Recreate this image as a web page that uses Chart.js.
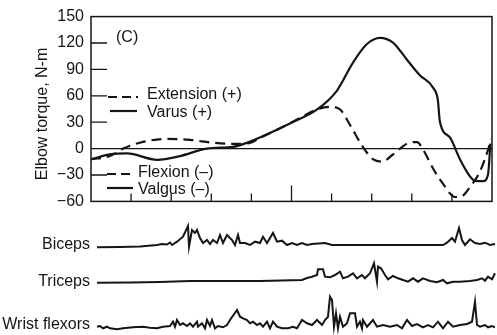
<!DOCTYPE html>
<html>
<head>
<meta charset="utf-8">
<script src="https://cdn.jsdelivr.net/npm/chart.js@4/dist/chart.umd.min.js"></script>
<style>
  html, body { margin: 0; padding: 0; background: #fff; }
  #wrap { position: relative; width: 497px; height: 335px; overflow: hidden; }
  #torque { position: absolute; left: 0; top: 0; }
  #emg { position: absolute; left: 0; top: 215px; }
</style>
</head>
<body>
<div id="wrap">
  <canvas id="torque" width="497" height="218"></canvas>
  <canvas id="emg" width="497" height="120"></canvas>
</div>
<script>
// Elbow torque (N-m) against % of the pitch cycle
const extensionX = [0, 4.7, 8, 12.2, 18.9, 24.7, 30.4, 35.4, 39.2, 42.1, 49.6, 56.4, 59.6, 62.1, 64.6, 67.8, 70.3, 72.6, 75.3, 78.8, 81.3, 82.8, 85.3, 87.8, 90.8, 92.5, 94.5, 97, 99, 99.8];
const extensionY = [-12, -8.5, 0, 6.7, 11, 9.9, 6.7, 5.3, 6, 12, 28.6, 44.5, 47.5, 44.5, 26.8, 2, -12, -14.8, -6.7, 5.7, 7.4, -1, -22.6, -40, -55, -54, -43.7, -26, -1.6, 11];
const varusX = [0, 4.7, 9, 16.5, 22.2, 28.9, 35.4, 37.2, 42.1, 49.6, 56.4, 61.3, 65.3, 68.8, 72.1, 75.3, 78.8, 82, 85.3, 86.5, 87, 89.5, 92, 94.5, 95.8, 97.8, 99, 99.6];
const varusY = [-12, -6.6, -5.5, -12.7, -8.5, 0, 2, 4, 12.7, 28.6, 44.5, 65.7, 97.5, 118.8, 125.9, 120.5, 101, 83.4, 69.3, 55, 30.7, 12.7, -12, -31.5, -36.8, -37, -29.7, 5.7];
const yTicks = [-60, -30, 0, 30, 60, 90, 120, 150];
const xTicks = [10, 20, 30, 40, 50, 60, 70, 80, 90];

// EMG traces (amplitude above each baseline)
const bicepsX = [0, 5.75, 10.75, 15, 16.25, 17.5, 18.25, 18.75, 20, 21.5, 22.75, 23, 23.75, 24.5, 25, 25.75, 26.5, 27.5, 28.25, 29, 30, 30.75, 31.5, 32.5, 33.75, 34.5, 35.25, 35.75, 37, 38.25, 39.5, 40.75, 41.5, 42.5, 44, 45, 46.25, 47.5, 48.75, 50, 51.25, 52.5, 53.75, 57, 58.75, 65.25, 70.75, 86.5, 87.5, 88.75, 89.5, 90.5, 91.25, 92, 93.25, 94.5, 95.75, 97, 98.25, 99.5];
const bicepsAmp = [0.7, 1, 1.5, 3, 4, 3.5, 5.5, 3, 6.3, 11.3, 22, 1.3, 18, 15, 18, 10, 5, 8, 4, 8, 5, 13, 5, 13, 8, 3, 13, 5, 5, 3, 6.3, 5, 11.3, 5, 15, 6.3, 7.3, 3, 5, 3, 5, 3, 4, 5, 3, 3, 3, 3, 5.3, 10, 6.3, 20, 8, 3, 8.7, 5, 4, 5.3, 3, 4];
const tricepsX = [0, 8.25, 15.75, 23.25, 32, 40.75, 51.25, 52.5, 53.75, 55, 55.25, 56.5, 57, 58.25, 59.5, 60.75, 61.5, 62.75, 64, 65, 66.25, 67, 68.25, 69.25, 70, 70.25, 71, 72, 72.75, 74, 75.25, 76.5, 77.75, 79, 80.25, 81.5, 83.25, 85, 86.5, 87.5, 89, 90.75, 93.25, 95, 96.25, 97, 97.75, 98.75, 99.5];
const tricepsAmp = [1.3, 1.5, 2, 3, 3, 3, 4, 6, 7.3, 9, 14.7, 14.7, 7.3, 6.7, 9, 12.3, 5.7, 7.3, 10.7, 5.7, 9, 5.7, 10.7, 20.7, 2.3, 17.3, 15.7, 9, 4.7, 8, 5.7, 4, 2.3, 5.7, 2.3, 5.7, 3, 1.7, 4, 0.7, 2.3, 2.3, 3, 4, 5.7, 3.3, 7.3, 4.7, 10.7];
const wristX = [0, 0.75, 1.5, 2.5, 3.25, 5, 6.5, 9, 11.5, 13.25, 15, 16.5, 18.25, 19, 19.5, 20, 20.75, 21.5, 22.5, 23.25, 24, 25, 25.25, 26.25, 27, 27.5, 28.25, 28.75, 29.5, 30.25, 31.5, 32.5, 33.25, 35, 35.75, 36.5, 37.5, 38.25, 39, 40, 40.75, 41.5, 42.5, 43.25, 44, 45, 46.25, 47.75, 49, 50, 51.25, 52.5, 53.75, 55, 56.25, 57, 57.75, 58.25, 58.75, 59.25, 59.75, 60.25, 60.75, 61.5, 62.5, 63.25, 64.5, 65, 65.75, 66.25, 66.5, 67.5, 69, 70, 71.5, 73.25, 75, 76.25, 77.5, 78.75, 80, 81.5, 82.75, 84, 85.25, 86.5, 87.75, 89, 90.75, 92.5, 93.75, 94.5, 95, 95.75, 97, 97.75, 98.75, 99.5];
const wristAmp = [3.3, 4, 1.7, 3.3, 1.7, 0.7, 1.7, 2.7, 3.3, 2.3, 1.7, 3.3, 4, 8.3, 3.3, 10, 5, 6.7, 4, 6.7, 3.3, 8.3, 3.3, 6.7, 1.7, 10, 4, 10, 1.7, 4, 2.7, 5, 10, 20, 13.3, 11.7, 10, 6.7, 8.3, 5, 6.7, 3.3, 8.3, 1.7, 8.3, 3.3, 1.7, 1.7, 3.3, 1.7, 10, 6.7, 5, 10, 5, 10, 13.3, 33.3, 30, 3.3, 16.7, 1.7, 13.3, 3.3, 6.7, 16.7, 16.7, 3.3, 8.3, 1.7, 10, 3.3, 10, 3.3, 5, 3.3, 5, 1.7, 10, 4, 6, 2.7, 5, 2.7, 8.3, 1.7, 8.3, 3.3, 5, 6, 8.3, 28.3, 5, 3.3, 5, 2.7, 4, 2.7];
const emgNames = ['Biceps', 'Triceps', 'Wrist flexors'];

const ink = '#151515';
const family = '"Liberation Sans", Arial, Helvetica, sans-serif';

const toPoints = (xs, ys, base = 0) => xs.map((x, i) => ({ x, y: base + ys[i] }));

// Frame, inside ticks, axis title and the in-plot legend of the torque panel
const torqueDecor = {
  id: 'torqueDecor',
  afterDraw(chart) {
    const { ctx, chartArea: a, scales: { x, y } } = chart;
    ctx.save();
    ctx.strokeStyle = ink;
    ctx.lineWidth = 1.5;
    ctx.strokeRect(a.left, a.top, a.right - a.left, a.bottom - a.top);

    ctx.lineWidth = 1.3;
    ctx.beginPath();
    yTicks.forEach(v => {
      if (v === y.min || v === y.max || v === 0) return;
      const py = y.getPixelForValue(v);
      ctx.moveTo(a.left, py);
      ctx.lineTo(a.left + 16, py);
    });
    xTicks.forEach(v => {
      const px = x.getPixelForValue(v);
      ctx.moveTo(px, a.bottom);
      ctx.lineTo(px, a.bottom - (v === 50 ? 16 : 8));
    });
    ctx.stroke();

    ctx.font = '16px ' + family;
    ctx.fillStyle = ink;

    // y axis title
    ctx.save();
    ctx.translate(43, (a.top + a.bottom) / 2 + 5);
    ctx.rotate(-Math.PI / 2);
    ctx.textAlign = 'center';
    ctx.textBaseline = 'middle';
    ctx.fillText('Elbow torque, N-m', 0, 0);
    ctx.restore();

    // legend
    ctx.textBaseline = 'middle';
    ctx.textAlign = 'left';
    ctx.fillText('(C)', a.left + 25, 38);

    const items = [
      { text: 'Extension (+)', dash: [9, 5], x0: 17, x1: 47, tx: 56, ly: 97, ty: 95 },
      { text: 'Varus (+)', dash: [], x0: 19, x1: 46, tx: 56, ly: 111, ty: 113 },
      { text: 'Flexion (\u2013)', dash: [9, 5], x0: 16, x1: 42, tx: 47, ly: 174, ty: 173 },
      { text: 'Valgus (\u2013)', dash: [], x0: 16, x1: 42, tx: 47, ly: 188, ty: 190 }
    ];
    ctx.lineWidth = 2.2;
    items.forEach(it => {
      ctx.setLineDash(it.dash);
      ctx.beginPath();
      ctx.moveTo(a.left + it.x0, it.ly);
      ctx.lineTo(a.left + it.x1, it.ly);
      ctx.stroke();
      ctx.setLineDash([]);
      ctx.fillText(it.text, a.left + it.tx, it.ty);
    });
    ctx.restore();
  }
};

new Chart(document.getElementById('torque'), {
  type: 'line',
  data: {
    datasets: [
      {
        label: 'Extension (+) / Flexion (\u2013)',
        data: toPoints(extensionX, extensionY),
        borderColor: ink,
        borderWidth: 2.2,
        borderDash: [10, 6],
        pointRadius: 0,
        cubicInterpolationMode: 'monotone'
      },
      {
        label: 'Varus (+) / Valgus (\u2013)',
        data: toPoints(varusX, varusY),
        borderColor: ink,
        borderWidth: 2.2,
        pointRadius: 0,
        cubicInterpolationMode: 'monotone'
      }
    ]
  },
  options: {
    responsive: false,
    animation: false,
    layout: { padding: { top: 10, bottom: 10, left: 0, right: 5 } },
    plugins: { legend: { display: false }, tooltip: { enabled: false } },
    scales: {
      x: { type: 'linear', min: 0, max: 100, display: false },
      y: {
        min: -60,
        max: 150,
        afterBuildTicks: s => { s.ticks = yTicks.map(v => ({ value: v })); },
        afterFit: s => { s.width = 91; },
        ticks: {
          padding: 7,
          color: ink,
          font: { family, size: 16 },
          callback: v => (v < 0 ? '\u2212' + Math.abs(v) : String(v))
        },
        grid: {
          drawTicks: false,
          lineWidth: 1.2,
          color: c => (c.tick && c.tick.value === 0 ? ink : 'rgba(0,0,0,0)')
        },
        border: { display: false }
      }
    }
  },
  plugins: [torqueDecor]
});

// EMG panel: baselines are layout offsets on a 0..120 pixel-like scale
const emgBase = [87, 51, 5];
const emgLabelLift = [3, 2, 5];

const emgLabels = {
  id: 'emgLabels',
  afterDraw(chart) {
    const { ctx, chartArea: a, scales: { y } } = chart;
    ctx.save();
    ctx.font = '16px ' + family;
    ctx.fillStyle = ink;
    ctx.textAlign = 'right';
    ctx.textBaseline = 'middle';
    emgNames.forEach((name, i) => {
      ctx.fillText(name, a.left - 7, y.getPixelForValue(emgBase[i] + emgLabelLift[i]));
    });
    ctx.restore();
  }
};

const emgLine = {
  borderColor: ink,
  borderWidth: 2,
  pointRadius: 0,
  tension: 0,
  clip: false
};

new Chart(document.getElementById('emg'), {
  type: 'line',
  data: {
    datasets: [
      { ...emgLine, label: emgNames[0], data: toPoints(bicepsX, bicepsAmp, emgBase[0]) },
      { ...emgLine, label: emgNames[1], data: toPoints(tricepsX, tricepsAmp, emgBase[1]) },
      { ...emgLine, label: emgNames[2], data: toPoints(wristX, wristAmp, emgBase[2]) }
    ]
  },
  options: {
    responsive: false,
    animation: false,
    layout: { padding: { left: 97, right: 0, top: 0, bottom: 0 } },
    plugins: { legend: { display: false }, tooltip: { enabled: false } },
    scales: {
      x: { type: 'linear', min: 0, max: 100, display: false },
      y: { min: 0, max: 120, display: false }
    }
  },
  plugins: [emgLabels]
});
</script>
</body>
</html>
